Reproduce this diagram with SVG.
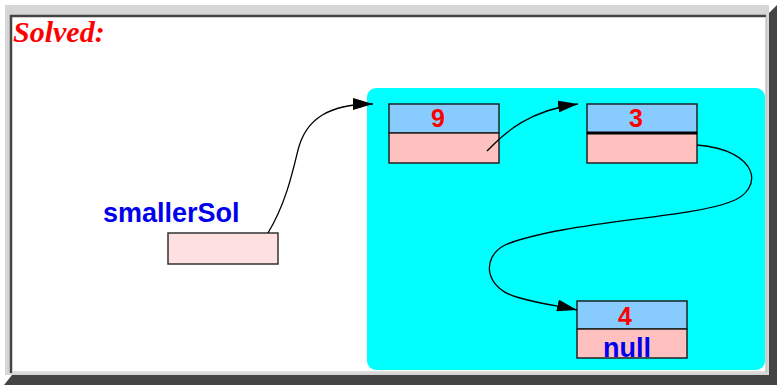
<svg xmlns="http://www.w3.org/2000/svg" width="783" height="392" viewBox="0 0 783 392">
<style>
.top{fill:#88ccff;stroke:#222;stroke-width:1.5}
.bot{fill:#ffc0c0;stroke:#222;stroke-width:1.5}
.num{font-family:"Liberation Sans",Arial,sans-serif;font-weight:bold;font-size:25px;fill:#ff0000;text-anchor:middle}
.lbl{font-family:"Liberation Sans",Arial,sans-serif;font-weight:bold;font-size:27px;fill:#0000ee}
.edge{fill:none;stroke:#000;stroke-width:1.3}
</style>
<defs>
<marker id="ah" viewBox="0 0 20 12" refX="20" refY="6" markerWidth="20" markerHeight="12" markerUnits="userSpaceOnUse" orient="auto">
<path d="M0,0 L20,6 L0,12 Z" fill="#000"/>
</marker>
</defs>
<g id="frame">
<rect x="0" y="0" width="783" height="392" fill="#fff"/>
<rect x="5" y="5" width="764" height="370" fill="#d6d6d6"/>
<polygon points="769,13 777,5 777,385 4,385 12,375 769,375" fill="#444"/>
<rect x="12" y="17" width="754" height="356" fill="#fff"/>
<path d="M11,373 V16 H766" fill="none" stroke="#444" stroke-width="2.5"/>
<path d="M766,17 V372 H12" fill="none" stroke="#bbb" stroke-width="1.2"/>
</g>
<text x="13" y="42" font-family="Liberation Serif,'Times New Roman',serif" font-weight="bold" font-style="italic" font-size="30" fill="#ff0000">Solved:</text>
<rect id="panel" x="367" y="88" width="398" height="282" rx="9" fill="#00ffff"/>
<g id="smallerSol">
<text class="lbl" x="103" y="222">smallerSol</text>
<rect x="168" y="233" width="110" height="31" fill="#ffe0e0" stroke="#333" stroke-width="1.5"/>
</g>
<g id="node9">
<rect class="top" x="389" y="104" width="110" height="29"/>
<rect class="bot" x="389" y="133" width="110" height="30"/>
<text class="num" x="438" y="127">9</text>
</g>
<g id="node3">
<rect class="top" x="587" y="104" width="110" height="29"/>
<rect class="bot" x="587" y="133" width="110" height="30"/>
<line x1="587" y1="133" x2="697" y2="133" stroke="#000" stroke-width="3"/>
<text class="num" x="636" y="127">3</text>
</g>
<g id="node4">
<rect class="top" x="577" y="301" width="110" height="28"/>
<rect class="bot" x="577" y="329" width="110" height="29"/>
<text class="num" x="625" y="325">4</text>
<text class="lbl" x="627" y="357" text-anchor="middle">null</text>
</g>
<g id="connectors">
<path class="edge" marker-end="url(#ah)" d="M268,233 C285,205 292,175 298,150 C306,118 330,104 373,104"/>
<path class="edge" marker-end="url(#ah)" d="M487,151 C505,132 530,110 578,104"/>
<path class="edge" marker-end="url(#ah)" d="M697,145 C760,150 765,190 730,202 C690,218 560,222 505,245 C480,258 485,290 520,298 C545,305 560,306 577,310"/>
</g>
</svg>
